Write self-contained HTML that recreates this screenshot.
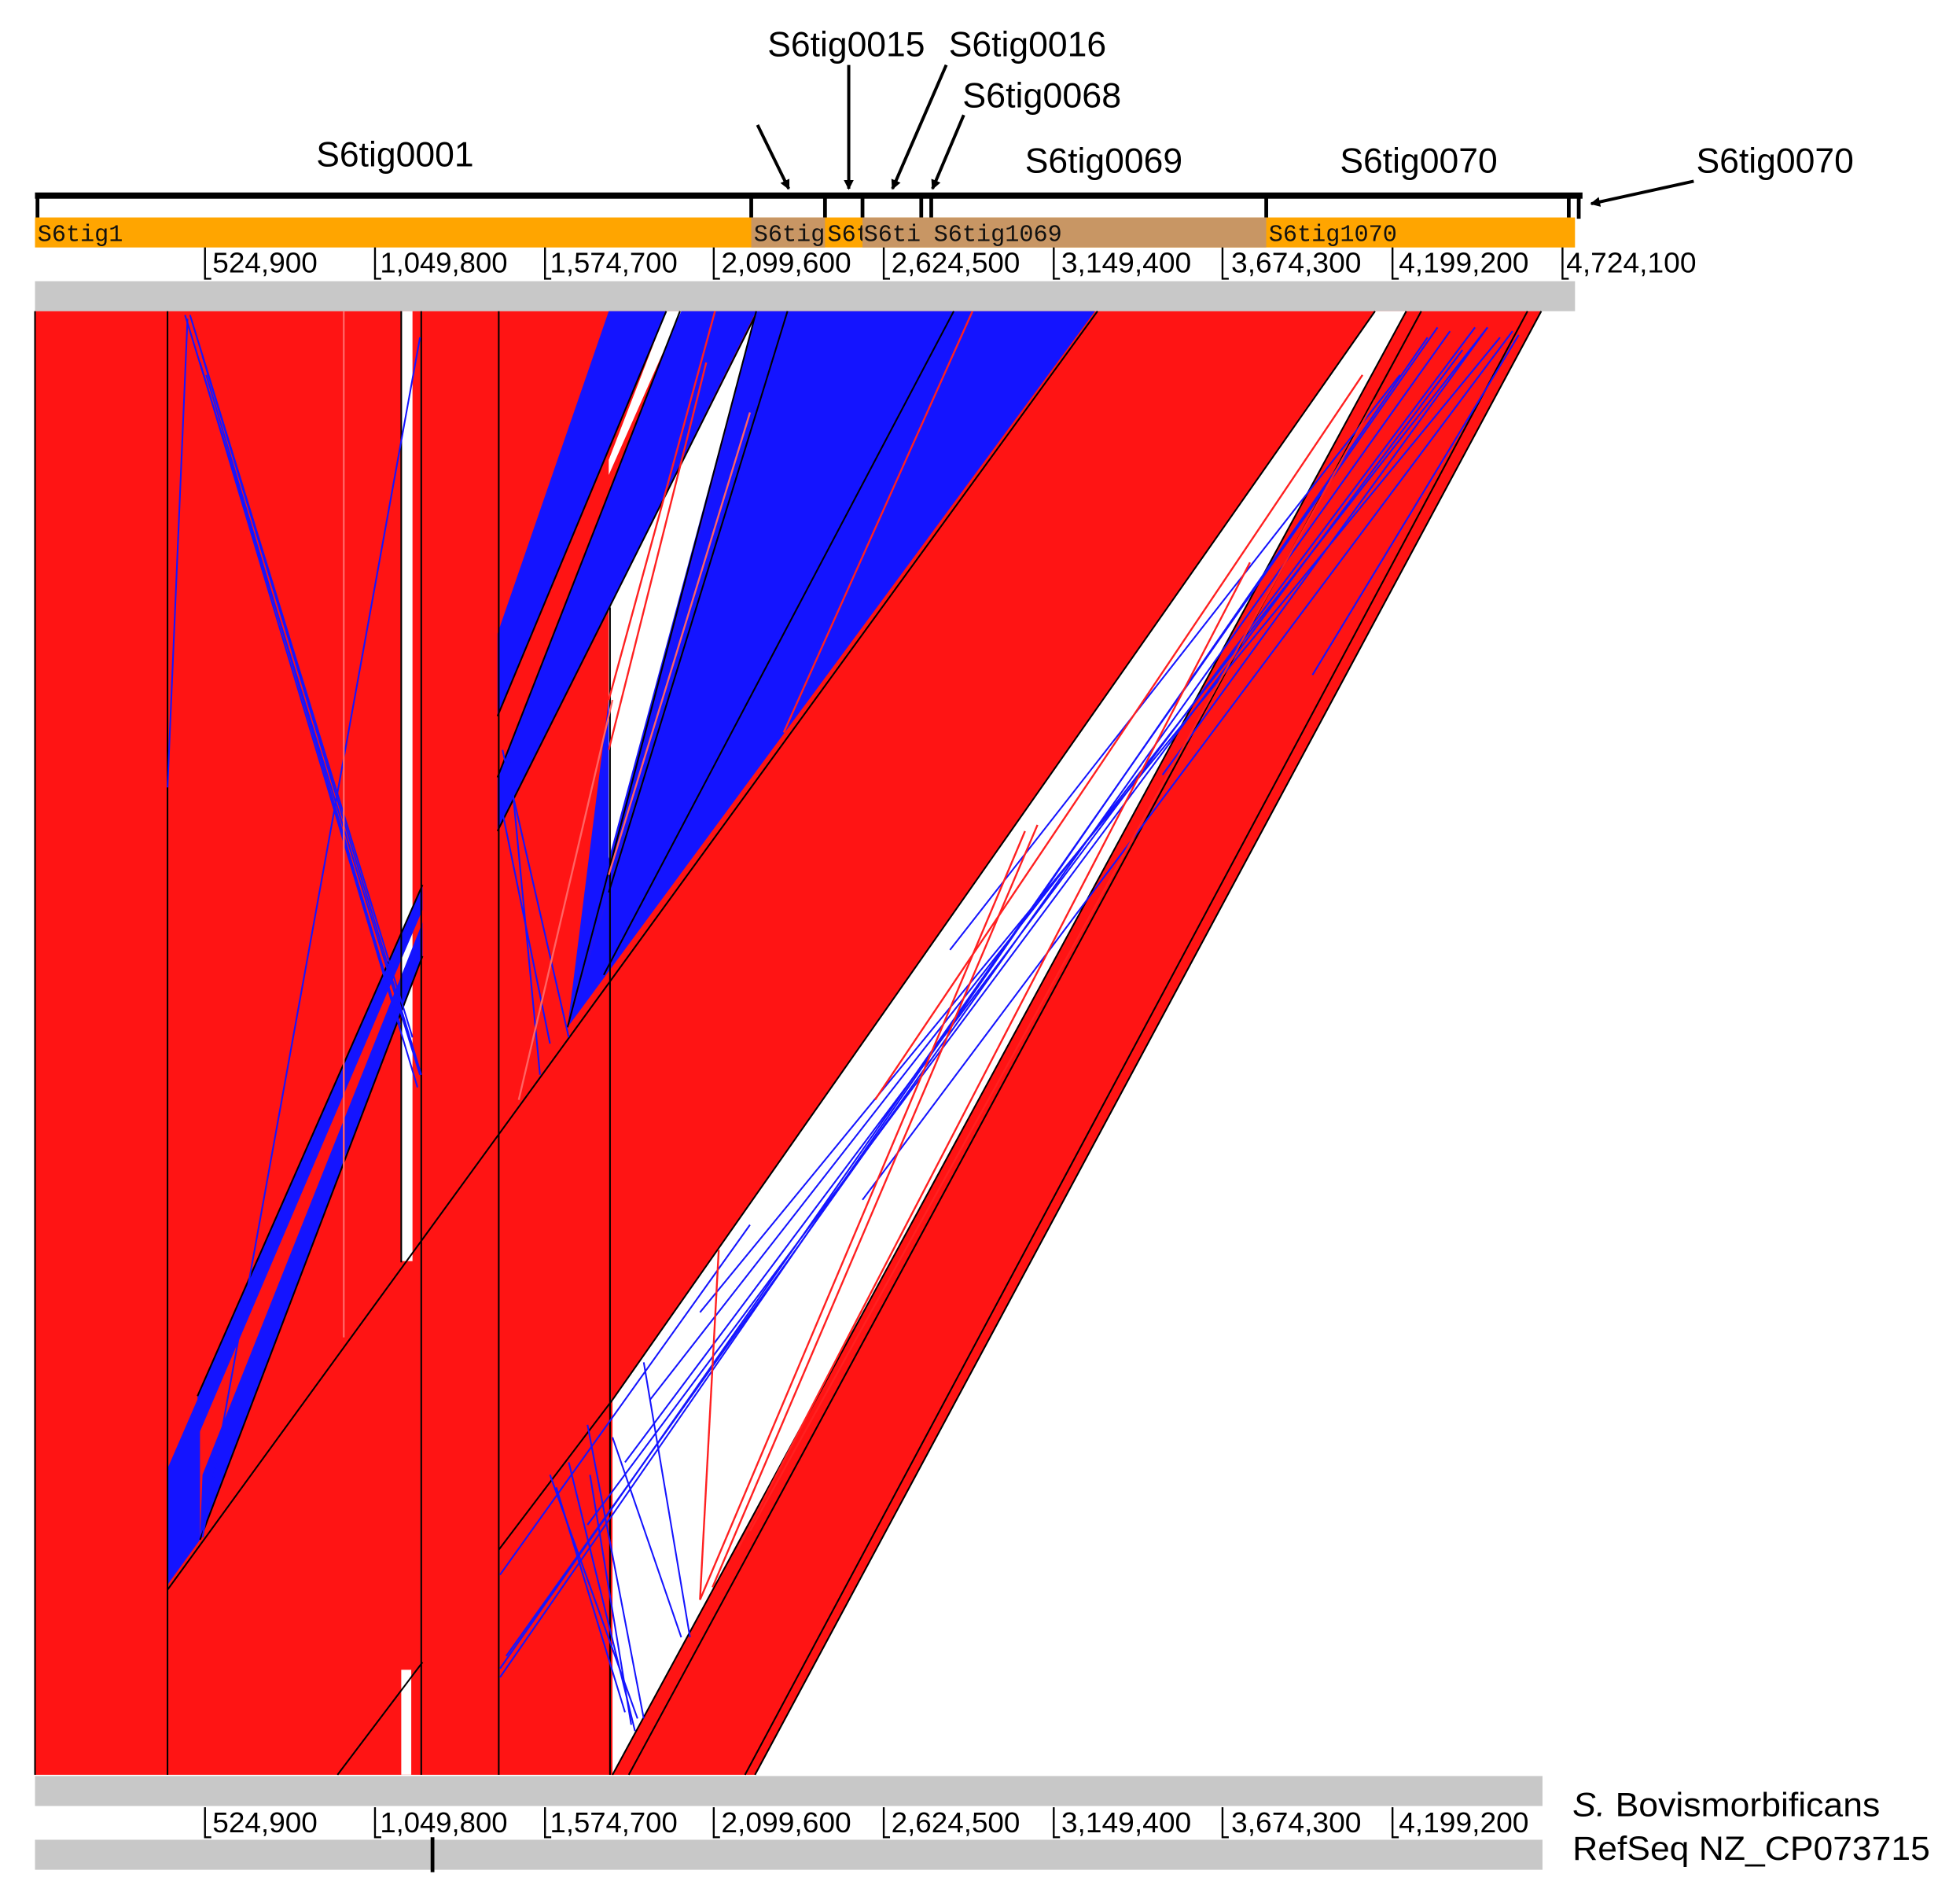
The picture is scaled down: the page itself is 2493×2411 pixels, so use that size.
<!DOCTYPE html>
<html><head><meta charset="utf-8"><style>
html,body{margin:0;padding:0;background:#fff}
svg{display:block}
text{font-family:"Liberation Sans",sans-serif}
.m text{font-family:"Liberation Mono",monospace;font-size:19px;fill:#111}
</style></head><body>
<svg width="2493" height="2411" viewBox="0 0 1568 1517" preserveAspectRatio="none" xmlns="http://www.w3.org/2000/svg">
<defs>
<marker id="ah" markerWidth="8" markerHeight="8" refX="7" refY="4" orient="auto" markerUnits="userSpaceOnUse"><path d="M0,0 L8,4 L0,8 Z" fill="#000"/></marker>
<clipPath id="c1"><rect x="28" y="174" width="573" height="24"/></clipPath>
<clipPath id="c2"><rect x="601" y="174" width="59" height="24"/></clipPath>
<clipPath id="c3"><rect x="660" y="174" width="30" height="24"/></clipPath>
<clipPath id="c4"><rect x="690" y="174" width="47" height="24"/></clipPath>
<clipPath id="c5"><rect x="745" y="174" width="268" height="24"/></clipPath>
<clipPath id="c6"><rect x="1013" y="174" width="245" height="24"/></clipPath>
</defs>

<g font-size="28" fill="#000">
<text x="253" y="133" textLength="126" lengthAdjust="spacingAndGlyphs">S6tig0001</text>
<text x="614" y="45" textLength="126" lengthAdjust="spacingAndGlyphs">S6tig0015</text>
<text x="759" y="45" textLength="126" lengthAdjust="spacingAndGlyphs">S6tig0016</text>
<text x="770" y="86" textLength="127" lengthAdjust="spacingAndGlyphs">S6tig0068</text>
<text x="820" y="138" textLength="126" lengthAdjust="spacingAndGlyphs">S6tig0069</text>
<text x="1072" y="138" textLength="126" lengthAdjust="spacingAndGlyphs">S6tig0070</text>
<text x="1357" y="138" textLength="126" lengthAdjust="spacingAndGlyphs">S6tig0070</text>
</g>
<g stroke="#000" stroke-width="2.5" fill="none" marker-end="url(#ah)">
<line x1="606" y1="100" x2="631" y2="151"/>
<line x1="679" y1="52" x2="679" y2="151"/>
<line x1="757" y1="52" x2="714" y2="151"/>
<line x1="771" y1="92" x2="746" y2="151"/>
<line x1="1355" y1="145" x2="1273" y2="163"/>
</g>

<rect x="28" y="154" width="1238" height="5" fill="#000"/>
<g stroke="#000" stroke-width="3">
<line x1="30" y1="155" x2="30" y2="175"/>
<line x1="601" y1="155" x2="601" y2="175"/>
<line x1="660" y1="155" x2="660" y2="175"/>
<line x1="690" y1="155" x2="690" y2="175"/>
<line x1="737" y1="155" x2="737" y2="175"/>
<line x1="745" y1="155" x2="745" y2="175"/>
<line x1="1013" y1="155" x2="1013" y2="175"/>
<line x1="1255" y1="155" x2="1255" y2="175"/>
<line x1="1263" y1="155" x2="1263" y2="175"/>
</g>
<rect x="28" y="174" width="1232" height="24" fill="#FFA500"/>
<rect x="601" y="174" width="59" height="24" fill="#C89664"/>
<rect x="690" y="174" width="323" height="24" fill="#C89664"/>
<g class="m">
<text x="30" y="193" clip-path="url(#c1)">S6tig1</text>
<text x="603" y="193" clip-path="url(#c2)">S6tig0015</text>
<text x="662" y="193" clip-path="url(#c3)">S6tig</text>
<text x="691" y="193" clip-path="url(#c4)">S6tig0016</text>
<text x="747" y="193" clip-path="url(#c5)">S6tig1069</text>
<text x="1015" y="193" clip-path="url(#c6)">S6tig1070</text>
</g>

<g stroke="#000" stroke-width="1.5" fill="none">
<path d="M164,198 V223 H169 M300,198 V223 H305 M436,198 V223 H441 M571,198 V223 H576 M707,198 V223 H712 M843,198 V223 H848 M978,198 V223 H983 M1114,198 V223 H1119 M1250,198 V223 H1255"/>
</g>
<g font-size="23" fill="#000">
<text x="170" y="218" textLength="84" lengthAdjust="spacingAndGlyphs">524,900</text>
<text x="304" y="218" textLength="102" lengthAdjust="spacingAndGlyphs">1,049,800</text>
<text x="440" y="218" textLength="102" lengthAdjust="spacingAndGlyphs">1,574,700</text>
<text x="577" y="218" textLength="104" lengthAdjust="spacingAndGlyphs">2,099,600</text>
<text x="713" y="218" textLength="103" lengthAdjust="spacingAndGlyphs">2,624,500</text>
<text x="849" y="218" textLength="104" lengthAdjust="spacingAndGlyphs">3,149,400</text>
<text x="985" y="218" textLength="104" lengthAdjust="spacingAndGlyphs">3,674,300</text>
<text x="1119" y="218" textLength="104" lengthAdjust="spacingAndGlyphs">4,199,200</text>
<text x="1253" y="218" textLength="104" lengthAdjust="spacingAndGlyphs">4,724,100</text>
</g>
<rect x="28" y="225" width="1232" height="24" fill="#C8C8C8"/>

<polygon points="28,249 1233,249 604,1420 28,1420" fill="#FF1414"/>
<rect x="321" y="249" width="9" height="760" fill="#fff"/>
<rect x="321" y="1336" width="8" height="84" fill="#fff"/>
<polygon points="1100,249 1125,249 490,1420 490,1120" fill="#fff"/>
<polygon points="487,249 533,249 398,573 398,507" fill="#1414FF"/>
<polygon points="544,249 605,249 398,665 398,622" fill="#1414FF"/>
<polygon points="605,249 876,249 454,822 487,714" fill="#1414FF"/>
<polygon points="605,249 487,714 454,822 487,560" fill="#1414FF"/>
<polygon points="533,249 545,249 487,380 487,368" fill="#fff"/>
<polygon points="604,253 487,486 487,687" fill="#fff"/>
<polygon points="338,708 338,728 158,1150 158,1117" fill="#1414FF"/>
<polygon points="338,738 338,765 160,1232 162,1180" fill="#1414FF"/>
<polygon points="134,1175 160,1115 160,1232 134,1268" fill="#1414FF"/>

<g stroke="#000" stroke-width="1.3">
<line x1="28" y1="249" x2="28" y2="1420"/>
<line x1="134" y1="249" x2="134" y2="1420"/>
<line x1="321" y1="249" x2="321" y2="1010"/>
<line x1="337" y1="249" x2="337" y2="1420"/>
<line x1="399" y1="249" x2="399" y2="1420"/>
<line x1="488" y1="486" x2="488" y2="1420"/>
<line x1="878" y1="249" x2="134" y2="1272"/>
<line x1="1100" y1="249" x2="490" y2="1120"/>
<line x1="490" y1="1120" x2="399" y2="1240"/>
<line x1="338" y1="1330" x2="270" y2="1420"/>
<line x1="1125" y1="249" x2="490" y2="1420"/>
<line x1="1233" y1="249" x2="604" y2="1420"/>
<line x1="1222" y1="249" x2="596" y2="1420"/>
<line x1="1137" y1="249" x2="503" y2="1420"/>
<line x1="605" y1="249" x2="454" y2="822"/>
<line x1="630" y1="249" x2="487" y2="714"/>
<line x1="763" y1="249" x2="483" y2="780"/>
<line x1="533" y1="249" x2="398" y2="573"/>
<line x1="544" y1="249" x2="398" y2="622"/>
<line x1="604" y1="253" x2="398" y2="665"/>
<line x1="338" y1="765" x2="160" y2="1232"/>
<line x1="338" y1="708" x2="158" y2="1117"/>
</g>

<g stroke="#1414FF" stroke-width="1.3" fill="none">
<line x1="148" y1="252" x2="336" y2="860"/>
<line x1="152" y1="252" x2="330" y2="830"/>
<line x1="162" y1="285" x2="337" y2="860"/>
<line x1="160" y1="290" x2="334" y2="870"/>
<line x1="165" y1="300" x2="320" y2="820"/>
<line x1="336" y1="270" x2="162" y2="1230"/>
<line x1="150" y1="255" x2="134" y2="630"/>
<line x1="402" y1="600" x2="455" y2="830"/>
<line x1="408" y1="610" x2="432" y2="860"/>
<line x1="402" y1="650" x2="440" y2="835"/>
<line x1="1150" y1="262" x2="400" y2="1335"/>
<line x1="1142" y1="270" x2="400" y2="1342"/>
<line x1="1160" y1="265" x2="405" y2="1325"/>
<line x1="1180" y1="262" x2="500" y2="1170"/>
<line x1="1190" y1="262" x2="520" y2="1120"/>
<line x1="1200" y1="270" x2="560" y2="1050"/>
<line x1="1170" y1="280" x2="470" y2="1220"/>
<line x1="1210" y1="265" x2="690" y2="960"/>
<line x1="1120" y1="300" x2="760" y2="760"/>
<line x1="1215" y1="268" x2="1050" y2="540"/>
<line x1="1190" y1="262" x2="930" y2="620"/>
<line x1="440" y1="1180" x2="510" y2="1375"/>
<line x1="470" y1="1140" x2="515" y2="1375"/>
<line x1="515" y1="1090" x2="552" y2="1310"/>
<line x1="490" y1="1150" x2="545" y2="1310"/>
<line x1="472" y1="1180" x2="505" y2="1380"/>
<line x1="445" y1="1190" x2="500" y2="1370"/>
<line x1="455" y1="1170" x2="508" y2="1385"/>
<line x1="400" y1="1260" x2="600" y2="980"/>
</g>
<g stroke="#FF2020" stroke-width="1.5" fill="none">
<line x1="560" y1="1280" x2="820" y2="665"/>
<line x1="570" y1="1270" x2="830" y2="660"/>
<line x1="590" y1="1240" x2="1000" y2="450"/>
<line x1="600" y1="1225" x2="1100" y2="320"/>
<line x1="1090" y1="300" x2="700" y2="880"/>
<line x1="575" y1="1000" x2="560" y2="1280"/>
<line x1="572" y1="249" x2="487" y2="560"/>
<line x1="565" y1="290" x2="487" y2="600"/>
<line x1="778" y1="249" x2="627" y2="586"/>
</g>
<g stroke="#FF6464" stroke-width="1.5">
<line x1="275" y1="249" x2="275" y2="1070"/>
<line x1="490" y1="560" x2="415" y2="880"/>
<line x1="600" y1="330" x2="487" y2="700"/>
</g>

<rect x="28" y="1421" width="1206" height="24" fill="#C8C8C8"/>
<g stroke="#000" stroke-width="1.5" fill="none">
<path d="M164,1446 V1470 H169 M300,1446 V1470 H305 M436,1446 V1470 H441 M571,1446 V1470 H576 M707,1446 V1470 H712 M843,1446 V1470 H848 M978,1446 V1470 H983 M1114,1446 V1470 H1119"/>
</g>
<g font-size="23" fill="#000">
<text x="170" y="1466" textLength="84" lengthAdjust="spacingAndGlyphs">524,900</text>
<text x="304" y="1466" textLength="102" lengthAdjust="spacingAndGlyphs">1,049,800</text>
<text x="440" y="1466" textLength="102" lengthAdjust="spacingAndGlyphs">1,574,700</text>
<text x="577" y="1466" textLength="104" lengthAdjust="spacingAndGlyphs">2,099,600</text>
<text x="713" y="1466" textLength="103" lengthAdjust="spacingAndGlyphs">2,624,500</text>
<text x="849" y="1466" textLength="104" lengthAdjust="spacingAndGlyphs">3,149,400</text>
<text x="985" y="1466" textLength="104" lengthAdjust="spacingAndGlyphs">3,674,300</text>
<text x="1119" y="1466" textLength="104" lengthAdjust="spacingAndGlyphs">4,199,200</text>
</g>
<rect x="28" y="1472" width="1206" height="24" fill="#C8C8C8"/>
<line x1="346" y1="1470" x2="346" y2="1498" stroke="#000" stroke-width="3"/>
<g font-size="27" fill="#000">
<text x="1258" y="1453" textLength="246" lengthAdjust="spacingAndGlyphs"><tspan font-style="italic">S.</tspan> Bovismorbificans</text>
<text x="1258" y="1488" textLength="286" lengthAdjust="spacingAndGlyphs">RefSeq NZ_CP073715</text>
</g>
</svg>
</body></html>
